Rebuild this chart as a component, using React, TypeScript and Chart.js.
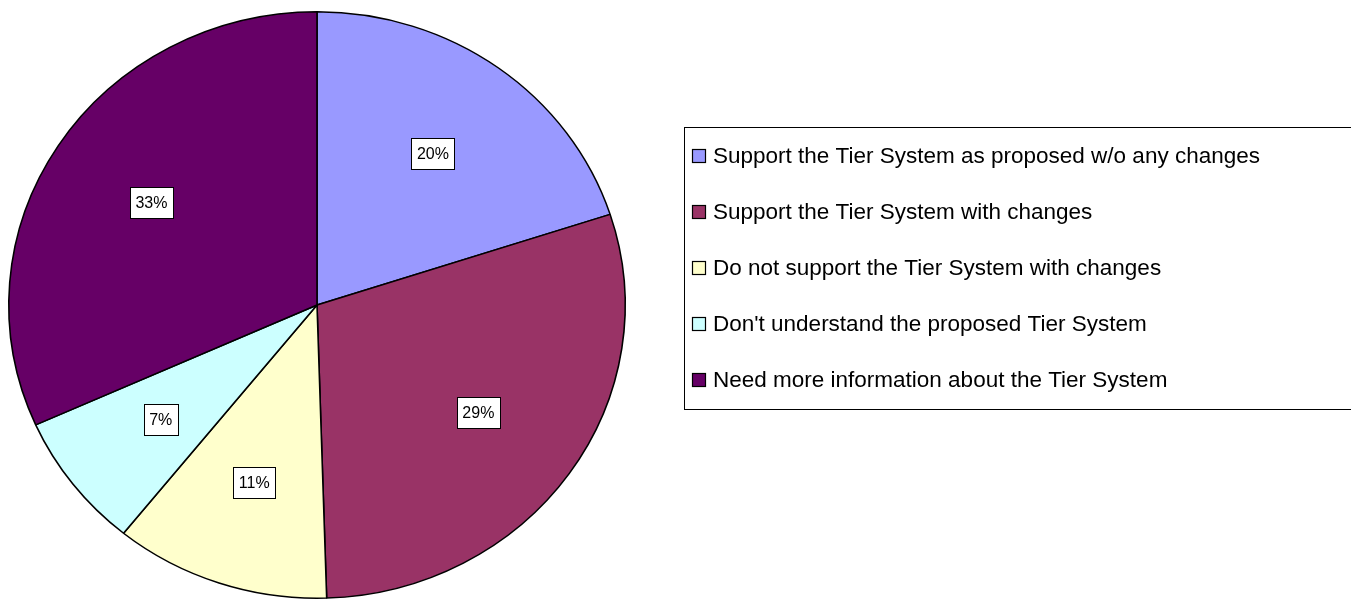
import React, { useEffect, useRef } from "react";
import { Chart, registerables } from "chart.js";

Chart.register(...registerables);

const categories = [
  "Support the Tier System as proposed w/o any changes",
  "Support the Tier System with changes",
  "Do not support the Tier System with changes",
  "Don't understand the proposed Tier System",
  "Need more information about the Tier System",
];
// slice shares
const shares = [20.0, 29.5, 11.3, 7.5, 31.7];
// percentage labels printed on the slices
const percentLabels = ["20%", "29%", "11%", "7%", "33%"];
const colors = ["#9999FF", "#993366", "#FFFFCC", "#CCFFFF", "#660066"];

const FONT = "'Liberation Sans', Arial, sans-serif";
const STRETCH_X = 309 / 294;

const ellipsePlugin = {
  id: "ellipse",
  beforeDatasetsDraw(chart: any) {
    const meta = chart.getDatasetMeta(0);
    const arc = meta.data[0];
    if (!arc) return;
    const ctx = chart.ctx;
    ctx.save();
    ctx.translate(arc.x, arc.y);
    ctx.scale(STRETCH_X, 1);
    ctx.translate(-arc.x, -arc.y);
  },
  afterDatasetsDraw(chart: any) {
    chart.ctx.restore();
  },
};

const labelPlugin = {
  id: "sliceLabels",
  afterDraw(chart: any) {
    const ctx = chart.ctx;
    const meta = chart.getDatasetMeta(0);
    ctx.save();
    ctx.font = `16px ${FONT}`;
    ctx.textAlign = "center";
    ctx.textBaseline = "middle";
    meta.data.forEach((arc: any, i: number) => {
      const mid = (arc.startAngle + arc.endAngle) / 2;
      const r = arc.outerRadius * 0.64;
      const px = arc.x + Math.cos(mid) * r * STRETCH_X;
      const py = arc.y + Math.sin(mid) * r;
      const text = percentLabels[i];
      const w = Math.round(ctx.measureText(text).width + 11);
      const h = 31;
      const bx = Math.round(px - w / 2) + 0.5;
      const by = Math.round(py - h / 2) + 0.5;
      ctx.fillStyle = "#FFFFFF";
      ctx.fillRect(bx, by, w, h);
      ctx.strokeStyle = "#000000";
      ctx.lineWidth = 1;
      ctx.strokeRect(bx, by, w, h);
      ctx.fillStyle = "#000000";
      ctx.fillText(text, px, py + 1);
    });
    ctx.restore();
  },
};

const legendPlugin = {
  id: "boxLegend",
  afterDraw(chart: any) {
    const ctx = chart.ctx;
    const left = 684.5;
    const top = 127.5;
    const height = 282;
    ctx.save();
    ctx.strokeStyle = "#000000";
    ctx.lineWidth = 1;
    ctx.strokeRect(left, top, 720, height);
    ctx.font = `22.5px ${FONT}`;
    ctx.textAlign = "left";
    ctx.textBaseline = "middle";
    categories.forEach((name, i) => {
      const cy = 156 + i * 56;
      ctx.fillStyle = colors[i];
      ctx.fillRect(692.5, cy - 6.5, 13, 13);
      ctx.strokeStyle = "#000000";
      ctx.lineWidth = 1.2;
      ctx.strokeRect(692.5, cy - 6.5, 13, 13);
      ctx.fillStyle = "#000000";
      ctx.fillText(name, 713, cy + 1);
    });
    ctx.restore();
  },
};

export default function App() {
  const canvasRef = useRef<HTMLCanvasElement | null>(null);

  useEffect(() => {
    if (!canvasRef.current) return;
    const chart = new Chart(canvasRef.current, {
      type: "pie",
      data: {
        labels: categories,
        datasets: [
          {
            data: shares,
            backgroundColor: colors,
            borderColor: "#000000",
            borderWidth: 1.5,
            clip: false as any,
          },
        ],
      },
      options: {
        animation: false,
        responsive: true,
        maintainAspectRatio: false,
        layout: { padding: { left: 23, right: 740, top: 11, bottom: 1 } },
        plugins: {
          legend: { display: false },
          tooltip: { enabled: false },
        },
        events: [],
      },
      plugins: [ellipsePlugin, labelPlugin, legendPlugin],
    });
    return () => chart.destroy();
  }, []);

  return (
    <div
      style={{
        position: "absolute",
        left: 0,
        top: 0,
        width: 1351,
        height: 600,
        background: "#FFFFFF",
      }}
    >
      <canvas ref={canvasRef} />
    </div>
  );
}
